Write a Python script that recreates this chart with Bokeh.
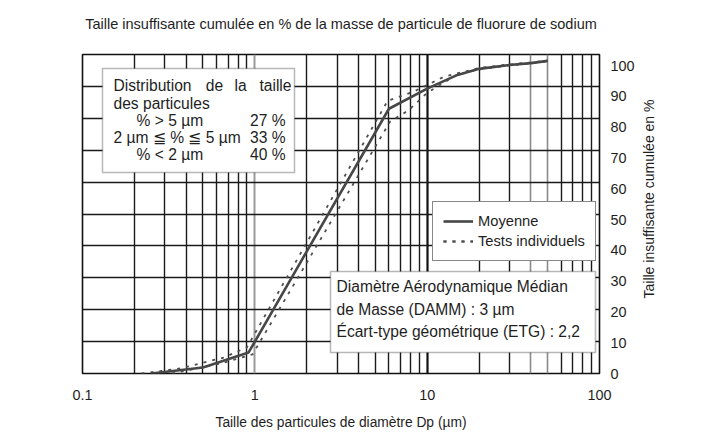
from bokeh.plotting import figure
from bokeh.models import (Range1d, LinearAxis, LogAxis, FixedTicker, CustomJSTickFormatter,
                          Grid, BoxAnnotation, Label, Legend, LegendItem)
from bokeh.embed import file_html
from bokeh.resources import INLINE
import math

# ---------------- data ----------------
mean_x = [0.25, 0.5, 0.92, 6.0, 10, 15, 20, 30, 40, 50]
mean_y = [0, 1.9, 6.6, 83.0, 89.3, 93.6, 95.5, 96.7, 97.3, 98.0]
testA_x = [0.22, 0.37, 0.66, 0.9, 5.9, 8.3, 12.5, 20, 30, 40, 50]
testA_y = [0, 1.6, 5.0, 8.2, 85.5, 88.3, 93.0, 95.8, 96.9, 97.5, 98.1]
testB_x = [0.33, 0.63, 0.97, 6.1, 7.8, 10, 14.6, 20, 30, 40, 50]
testB_y = [0, 3.1, 6.0, 79.0, 82.5, 88.0, 93.4, 95.3, 96.6, 97.2, 97.9]

x_tick_vals = [0.1, 1, 10, 100]
x_tick_labels = ["0.1", "1", "10", "100"]
y_tick_vals = [0, 10, 20, 30, 40, 50, 60, 70, 80, 90, 100]
x_grid_black = [0.2, 0.3, 0.4, 0.5, 0.6, 0.7, 0.8, 0.9, 2, 3, 4, 5, 6, 7, 8, 9, 20, 30, 60, 70, 80, 90]
x_grid_gray = [40, 50]
x_grid_decade_black = [10]
x_grid_decade_gray = [1]
y_grid_vals = [10, 20, 30, 40, 50, 60, 70, 80, 90]

title_text = "Taille insuffisante cumulée en % de la masse de particule de fluorure de sodium"
xlabel_text = "Taille des particules de diamètre Dp (µm)"
ylabel_text = "Taille insuffisante cumulée en %"
box1_title_words = ["Distribution", "de", "la", "taille"]
box1_line2 = "des particules"
box1_rows = [("% > 5 µm", "27 %"), ("2 µm ≦ % ≦ 5 µm", "33 %"), ("% < 2 µm", "40 %")]
box3_lines = ["Diamètre Aérodynamique Médian", "de Masse (DAMM) : 3 µm",
              "Écart-type géométrique (ETG) : 2,2"]
legend_labels = ["Moyenne", "Tests individuels"]

FONT = "Liberation Sans"
TXT = "#1e1e1e"

# page-pixel helpers (frame: x 82..599, y 54..373)
FL, FR, FT, FB = 82, 599, 54, 373
DEC = (FR - FL) / 3.0
PY = (FB - FT) / 100.0
LAB_TOP = 65  # pixel of the "100" tick label
LAB_PY = (FB - LAB_TOP) / 100.0


def px_to_x(px):
    return 10 ** (-1 + (px - FL) / DEC)


def py_to_y(py):
    return (FB - py) / PY


W, H = 724, 432
p = figure(width=W, height=H, x_axis_type="log", x_range=Range1d(0.1, 100),
           y_range=Range1d(0, 100), x_axis_location=None, y_axis_location=None,
           toolbar_location=None, output_backend="svg",
           min_border_left=FL, min_border_top=FT,
           min_border_right=W - FR, min_border_bottom=H - FB)
p.background_fill_color = "white"
p.border_fill_color = "white"
p.outline_line_color = "#111111"
p.outline_line_width = 1.6
p.xgrid.visible = False
p.ygrid.visible = False

# grids
def add_grid(dim, ticks, color, width):
    g = Grid(dimension=dim, ticker=FixedTicker(ticks=ticks), grid_line_color=color,
             grid_line_width=width)
    p.add_layout(g)

add_grid(0, x_grid_black, "#1a1a1a", 1.4)
add_grid(0, x_grid_gray, "#8a8a8a", 1.6)
add_grid(0, x_grid_decade_black, "#111111", 2.2)
add_grid(0, x_grid_decade_gray, "#9a9a9a", 2.0)
add_grid(1, y_grid_vals, "#1a1a1a", 1.5)

# bottom axis with tick labels + axis title
xaxis = LogAxis(ticker=FixedTicker(ticks=x_tick_vals),
                formatter=CustomJSTickFormatter(args=dict(vals=x_tick_vals, labs=x_tick_labels),
                                                code="const i = vals.indexOf(tick); return i >= 0 ? labs[i] : '';"),
                major_tick_out=0, major_tick_in=0, minor_tick_out=0, minor_tick_in=0,
                axis_line_color=None, major_label_standoff=16,
                major_label_text_font=FONT, major_label_text_font_size="14.4px",
                major_label_text_color=TXT,
                axis_label=xlabel_text, axis_label_standoff=12,
                axis_label_text_font=FONT, axis_label_text_font_size="13.8px",
                axis_label_text_font_style="normal", axis_label_text_color=TXT)
p.add_layout(xaxis, "below")

# top "axis" used only for the chart title
taxis = LogAxis(ticker=FixedTicker(ticks=[]),
                major_tick_out=0, major_tick_in=0, minor_tick_out=0, minor_tick_in=0,
                axis_line_color=None, major_label_standoff=0,
                axis_label=title_text, axis_label_standoff=23,
                axis_label_text_font=FONT, axis_label_text_font_size="14.5px",
                axis_label_text_font_style="normal", axis_label_text_color=TXT)
p.add_layout(taxis, "above")

# right axis: tick labels (slightly compressed scale as in the original)
p.extra_y_ranges = {"lab": Range1d(0, (FB - FT) / LAB_PY)}
yaxis = LinearAxis(y_range_name="lab", ticker=FixedTicker(ticks=y_tick_vals),
                   major_tick_out=0, major_tick_in=0, minor_tick_out=0, minor_tick_in=0,
                   axis_line_color=None, major_label_standoff=11,
                   major_label_text_font=FONT, major_label_text_font_size="14.4px",
                   major_label_text_color=TXT)
p.add_layout(yaxis, "right")

# right axis title as a single rotated tick label; the text starts at its tick
ylab_pos = (FB - 298) / LAB_PY
ytitle = LinearAxis(y_range_name="lab", ticker=FixedTicker(ticks=[ylab_pos]),
                    formatter=CustomJSTickFormatter(args=dict(t=ylabel_text), code="return t;"),
                    major_tick_out=0, major_tick_in=0, minor_tick_out=0, minor_tick_in=0,
                    axis_line_color=None, major_label_standoff=11,
                    major_label_orientation=math.pi / 2,
                    major_label_text_font=FONT, major_label_text_font_size="14px",
                    major_label_text_color=TXT)
p.add_layout(ytitle, "right")

# curves
ra = p.line(testA_x, testA_y, line_color="#4f4f4f", line_width=1.8, line_dash="3 6")
rb = p.line(testB_x, testB_y, line_color="#4f4f4f", line_width=1.8, line_dash="3 6")
rm = p.line(mean_x, mean_y, line_color="#474747", line_width=2.6)

# text helper (data coords inside frame)
def add_text(txt, px, py, align="left", size="15.6px"):
    p.add_layout(Label(x=px_to_x(px), y=py_to_y(py), text=txt, text_align=align,
                       text_baseline="middle", text_font=FONT, text_font_size=size,
                       text_color=TXT))

# box 1
p.add_layout(BoxAnnotation(left=px_to_x(102), right=px_to_x(294), top=py_to_y(68),
                           bottom=py_to_y(172), fill_color="white", fill_alpha=1.0,
                           line_color="#111111", line_width=1.5))
add_text(box1_title_words[0], 113, 85, "left")
add_text(box1_title_words[1], 214, 85, "center")
add_text(box1_title_words[2], 240, 85, "center")
add_text(box1_title_words[3], 291, 85, "right")
add_text(box1_line2, 113, 103, "left")
row_y = [120, 137, 154]
row_x = [136, 113, 136]
for (lt, rt), yy, xx in zip(box1_rows, row_y, row_x):
    add_text(lt, xx, yy, "left")
    add_text(rt, 285, yy, "right")

# box 3
p.add_layout(BoxAnnotation(left=px_to_x(330), right=px_to_x(595), top=py_to_y(271),
                           bottom=py_to_y(352), fill_color="white", fill_alpha=1.0,
                           line_color="#111111", line_width=1.5))
for line, yy in zip(box3_lines, [286, 308.5, 331]):
    add_text(line, 336, yy, "left")

# legend
legend = Legend(items=[LegendItem(label=legend_labels[0], renderers=[rm]),
                       LegendItem(label=legend_labels[1], renderers=[ra, rb])],
                location=(432 - FL, FB - 261), orientation="vertical",
                padding=10, spacing=2, margin=0, glyph_width=30, glyph_height=18,
                label_height=18, label_standoff=5,
                label_text_font=FONT, label_text_font_size="14.7px", label_text_color=TXT,
                border_line_color="#111111", border_line_width=1.5,
                background_fill_color="white", background_fill_alpha=1.0)
p.add_layout(legend)

open("out.html", "w").write(file_html(p, INLINE))
